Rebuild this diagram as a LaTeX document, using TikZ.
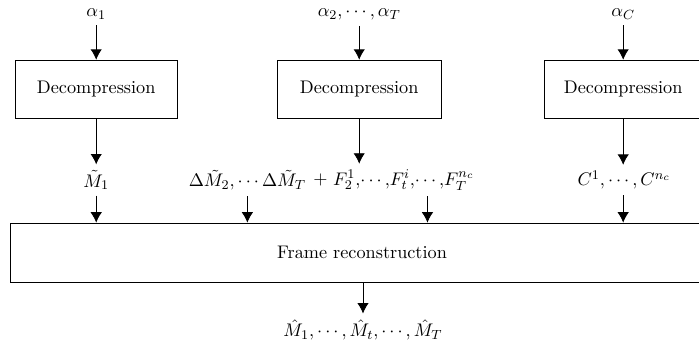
\documentclass[tikz,border=0pt]{standalone}
\usepackage{tikz}
\usetikzlibrary{arrows.meta}

\begin{document}
\begin{tikzpicture}[
    every node/.style={font=\fontsize{10.95}{13.6}\selectfont},
    decbox/.style={draw=black, line width=0.5pt, minimum width=3.42cm, minimum height=1.22cm},
    flow/.style={-{Latex[length=2.2mm, width=2.4mm]}, line width=0.5pt}
  ]
  \useasboundingbox (0,0) rectangle (14.75,7.28);

  % Compressed parameters
  \node (a1) at (2.03,6.98) {$\alpha_1$};
  \node (a2) at (7.58,6.98) {$\alpha_2,\cdots,\alpha_T$};
  \node (aC) at (13.15,6.98) {$\alpha_C$};

  % Decompression blocks
  \node[decbox] (dec1) at (2.03,5.40) {Decompression};
  \node[decbox, minimum width=3.46cm] (dec2) at (7.58,5.40) {Decompression};
  \node[decbox, minimum width=3.33cm] (dec3) at (13.15,5.40) {Decompression};

  % Decompressed data
  \node (m1) at (2.03,3.48) {$\tilde{M}_1$};
  \node (dm) at (5.22,3.48) {$\Delta\tilde{M}_2,\cdots\Delta\tilde{M}_T$};
  \node (plus) at (6.76,3.48) {$+$};
  \node (fl) at (8.52,3.48) {$F_2^1,\!\cdots,\!F_t^i,\!\cdots,\!F_T^{n_c}$};
  \node (cl) at (13.17,3.48) {$C^1,\cdots,C^{n_c}$};

  % Frame reconstruction
  \node[draw=black, line width=0.5pt, minimum width=14.86cm, minimum height=1.245cm] (frame) at (7.64,1.95) {Frame reconstruction};
  \node (out) at (7.66,0.32) {$\hat{M}_1,\cdots,\hat{M}_t,\cdots,\hat{M}_T$};

  % Connectors
  \draw[flow] (a1) -- (dec1);
  \draw[flow] (a2) -- (dec2);
  \draw[flow] (aC) -- (dec3);
  \draw[flow] (dec1) -- (m1);
  \draw[flow] (dec2) -- (dec2 |- fl.north);
  \draw[flow] (dec3) -- (dec3 |- cl.north);
  \draw[flow] (m1) -- (m1 |- frame.north);
  \draw[flow] (dm) -- (dm |- frame.north);
  \draw[flow] ([xshift=0.5cm]fl.south) -- ([xshift=0.5cm]fl.south |- frame.north);
  \draw[flow] (cl.south -| dec3) -- (dec3 |- frame.north);
  \draw[flow] (frame.south -| out) -- (out);

\end{tikzpicture}
\end{document}
